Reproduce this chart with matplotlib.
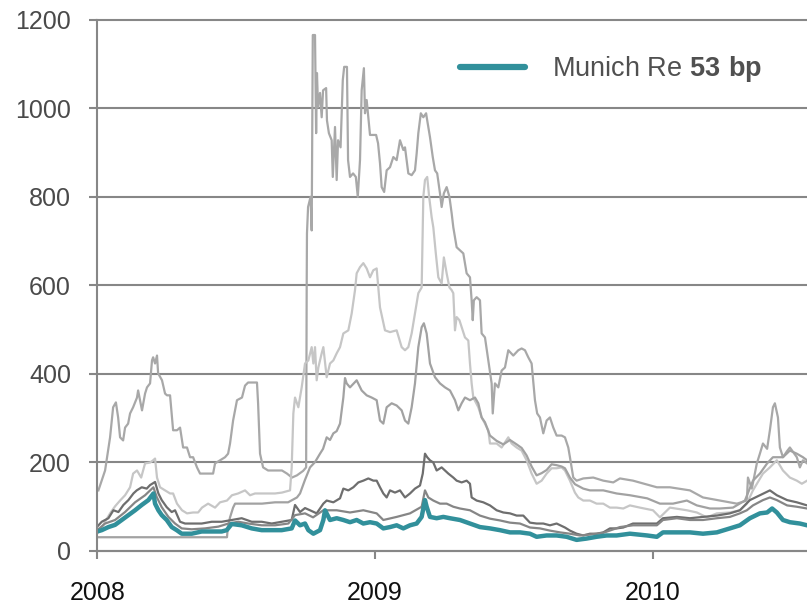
import numpy as np
import matplotlib
matplotlib.use("Agg")
import matplotlib.pyplot as plt

plt.rcParams['font.family'] = ['Liberation Sans', 'DejaVu Sans']
plt.rcParams['mathtext.fontset'] = 'custom'
plt.rcParams['mathtext.rm'] = 'Liberation Sans'
plt.rcParams['mathtext.bf'] = 'Liberation Sans:bold'

# CDS spreads in bp, x = years after start of 2008
a_t = [0.004, 0.028, 0.046, 0.057, 0.067, 0.075, 0.082, 0.093, 0.100, 0.111, 0.118, 0.129, 0.143, 0.147,
       0.161, 0.172, 0.179, 0.190, 0.197, 0.201, 0.208, 0.215, 0.219, 0.233, 0.244, 0.251, 0.262, 0.273,
       0.287, 0.298, 0.309, 0.323, 0.334, 0.345, 0.359, 0.370, 0.417, 0.424, 0.442, 0.460, 0.471, 0.478,
       0.489, 0.503, 0.521, 0.532, 0.543, 0.575, 0.579, 0.586, 0.597, 0.615, 0.633, 0.665, 0.683, 0.701,
       0.719, 0.741, 0.752, 0.754, 0.755, 0.759, 0.768, 0.772, 0.776, 0.784, 0.788, 0.791, 0.795, 0.802,
       0.808, 0.813, 0.824, 0.827, 0.834, 0.844, 0.848, 0.856, 0.862, 0.867, 0.876, 0.884, 0.889, 0.899,
       0.903, 0.910, 0.921, 0.931, 0.938, 0.946, 0.952, 0.960, 0.964, 0.970, 0.976, 0.982, 1.004, 1.011,
       1.018, 1.024, 1.033, 1.042, 1.054, 1.066, 1.078, 1.090, 1.102, 1.108, 1.120, 1.132, 1.144, 1.150,
       1.156, 1.165, 1.174, 1.184, 1.188, 1.198, 1.208, 1.216, 1.224, 1.234, 1.240, 1.248, 1.258, 1.268,
       1.276, 1.282, 1.294, 1.306, 1.318, 1.330, 1.342, 1.348, 1.352, 1.356, 1.366, 1.378, 1.384, 1.396,
       1.408, 1.420, 1.424, 1.432, 1.444, 1.456, 1.468, 1.480, 1.498, 1.516, 1.528, 1.540, 1.552, 1.564,
       1.576, 1.584, 1.594, 1.606, 1.618, 1.630, 1.642, 1.654, 1.672, 1.684, 1.696, 1.702, 1.714, 1.726,
       1.750, 1.786, 1.822, 1.858, 1.882, 1.929, 2.015, 2.062, 2.134, 2.181, 2.242, 2.303, 2.339, 2.343,
       2.357, 2.375, 2.386, 2.397, 2.412, 2.422, 2.433, 2.440, 2.451, 2.458, 2.469, 2.484, 2.494, 2.519,
       2.530, 2.541, 2.556]
a_v = [136, 181, 256, 324, 335, 301, 256, 249, 278, 287, 310, 324, 346, 362,
       317, 355, 369, 378, 430, 437, 423, 441, 401, 385, 355, 351, 351, 272,
       272, 278, 233, 233, 211, 211, 188, 174, 174, 197, 204, 211, 219, 242,
       294, 340, 346, 373, 380, 380, 333, 219, 188, 181, 181, 181, 174, 165,
       170, 180, 188, 595, 717, 777, 800, 724, 1166, 1166, 944, 1080, 1003, 1035,
       980, 1041, 1046, 973, 944, 928, 845, 958, 838, 928, 912, 1064, 1094, 1094,
       883, 845, 853, 845, 800, 883, 1041, 1091, 989, 1019, 980, 940, 940, 921,
       876, 822, 811, 860, 867, 890, 883, 928, 906, 912, 853, 849, 860, 898,
       944, 989, 980, 989, 973, 935, 890, 860, 853, 808, 777, 808, 822, 800,
       763, 731, 686, 679, 672, 627, 618, 566, 521, 566, 573, 566, 491, 482,
       430, 378, 310, 378, 369, 407, 414, 453, 441, 453, 457, 453, 437, 423,
       340, 310, 301, 265, 294, 301, 278, 260, 260, 256, 233, 211, 165, 158,
       163, 165, 158, 154, 163, 158, 143, 143, 136, 120, 113, 106, 113, 165,
       140, 197, 219, 242, 230, 272, 324, 333, 301, 233, 211, 225, 233, 211,
       188, 204, 197]

b_t = [0.001, 0.010, 0.028, 0.046, 0.064, 0.082, 0.100, 0.118, 0.129, 0.143, 0.158, 0.172, 0.190, 0.201,
       0.208, 0.215, 0.226, 0.244, 0.262, 0.273, 0.287, 0.305, 0.323, 0.345, 0.363, 0.377, 0.399, 0.424,
       0.442, 0.467, 0.485, 0.507, 0.532, 0.550, 0.568, 0.593, 0.615, 0.640, 0.665, 0.694, 0.700, 0.706,
       0.712, 0.724, 0.736, 0.748, 0.760, 0.772, 0.778, 0.784, 0.790, 0.796, 0.808, 0.814, 0.826, 0.838,
       0.850, 0.862, 0.874, 0.886, 0.904, 0.916, 0.928, 0.934, 0.946, 0.958, 0.970, 0.982, 0.994, 1.006,
       1.015, 1.018, 1.036, 1.054, 1.078, 1.096, 1.108, 1.120, 1.132, 1.144, 1.156, 1.168, 1.174, 1.180,
       1.188, 1.195, 1.204, 1.210, 1.219, 1.228, 1.240, 1.248, 1.258, 1.268, 1.276, 1.282, 1.288, 1.294,
       1.304, 1.324, 1.336, 1.342, 1.348, 1.354, 1.372, 1.384, 1.396, 1.408, 1.414, 1.438, 1.456, 1.480,
       1.492, 1.510, 1.528, 1.546, 1.564, 1.582, 1.600, 1.618, 1.636, 1.654, 1.672, 1.684, 1.702, 1.720,
       1.732, 1.750, 1.774, 1.798, 1.822, 1.846, 1.870, 1.894, 1.918, 1.954, 2.001, 2.026, 2.062, 2.123,
       2.159, 2.195, 2.231, 2.278, 2.314, 2.339, 2.361, 2.397, 2.422, 2.447, 2.469, 2.494, 2.519, 2.537,
       2.556]
b_v = [40, 45, 65, 84, 100, 113, 125, 143, 174, 181, 165, 197, 199, 204,
       208, 165, 143, 136, 129, 129, 106, 91, 84, 86, 86, 97, 106, 97,
       109, 113, 125, 129, 136, 125, 129, 129, 129, 129, 131, 136, 188, 310,
       346, 324, 369, 423, 430, 460, 423, 460, 385, 414, 446, 460, 392, 423,
       430, 446, 460, 491, 498, 536, 589, 627, 641, 650, 638, 618, 634, 638,
       573, 550, 498, 494, 498, 460, 453, 460, 491, 536, 582, 595, 800, 838,
       845, 800, 754, 731, 672, 618, 604, 663, 627, 595, 589, 582, 498, 528,
       521, 482, 475, 423, 378, 346, 324, 301, 287, 272, 242, 242, 233, 256,
       242, 233, 226, 204, 174, 151, 158, 174, 186, 186, 188, 181, 158, 131,
       120, 113, 113, 106, 106, 97, 97, 95, 102, 97, 91, 75, 97, 91,
       86, 75, 84, 86, 91, 106, 136, 174, 188, 204, 181, 165, 158, 151,
       158]

c_t = [0.000, 0.467, 0.470, 0.478, 0.489, 0.496, 0.532, 0.593, 0.640, 0.687, 0.719, 0.730, 0.748, 0.766,
       0.784, 0.802, 0.813, 0.826, 0.838, 0.850, 0.862, 0.874, 0.886, 0.892, 0.898, 0.910, 0.934, 0.952,
       0.970, 0.988, 1.006, 1.018, 1.030, 1.042, 1.060, 1.078, 1.096, 1.108, 1.120, 1.132, 1.144, 1.156,
       1.168, 1.176, 1.186, 1.198, 1.216, 1.234, 1.252, 1.270, 1.288, 1.300, 1.312, 1.324, 1.342, 1.360,
       1.372, 1.384, 1.396, 1.414, 1.438, 1.462, 1.486, 1.510, 1.528, 1.546, 1.564, 1.582, 1.600, 1.618,
       1.636, 1.654, 1.672, 1.684, 1.702, 1.720, 1.750, 1.774, 1.822, 1.870, 1.918, 1.980, 2.026, 2.073,
       2.123, 2.159, 2.206, 2.242, 2.289, 2.332, 2.361, 2.386, 2.412, 2.433, 2.469, 2.494, 2.519, 2.541,
       2.556]
c_v = [30, 30, 52, 75, 97, 106, 106, 106, 109, 109, 120, 129, 160, 188,
       200, 219, 230, 256, 250, 265, 270, 287, 346, 390, 378, 369, 385, 362,
       351, 346, 340, 294, 287, 324, 333, 328, 317, 294, 287, 324, 378, 460,
       505, 514, 491, 423, 392, 378, 369, 362, 340, 317, 333, 346, 340, 346,
       333, 301, 290, 260, 248, 240, 250, 240, 232, 215, 190, 170, 175, 182,
       195, 193, 190, 186, 165, 150, 140, 136, 136, 129, 125, 118, 106, 106,
       113, 102, 95, 95, 97, 113, 158, 174, 197, 211, 211, 226, 219, 211,
       204]

d_t = [0.000, 0.016, 0.040, 0.058, 0.076, 0.094, 0.112, 0.130, 0.142, 0.160, 0.178, 0.190, 0.208, 0.220,
       0.232, 0.250, 0.268, 0.280, 0.298, 0.316, 0.340, 0.376, 0.412, 0.448, 0.484, 0.520, 0.556, 0.592,
       0.628, 0.664, 0.700, 0.712, 0.730, 0.748, 0.766, 0.790, 0.814, 0.826, 0.850, 0.874, 0.886, 0.904,
       0.922, 0.940, 0.958, 0.976, 0.994, 1.006, 1.018, 1.030, 1.042, 1.054, 1.072, 1.090, 1.108, 1.126,
       1.144, 1.162, 1.172, 1.180, 1.188, 1.198, 1.210, 1.222, 1.240, 1.252, 1.264, 1.282, 1.294, 1.312,
       1.330, 1.342, 1.348, 1.366, 1.390, 1.414, 1.438, 1.462, 1.486, 1.510, 1.534, 1.558, 1.582, 1.606,
       1.630, 1.654, 1.684, 1.702, 1.726, 1.750, 1.774, 1.798, 1.822, 1.846, 1.870, 1.894, 1.929, 2.015,
       2.037, 2.087, 2.134, 2.181, 2.231, 2.278, 2.314, 2.350, 2.386, 2.422, 2.447, 2.484, 2.519, 2.556]
d_v = [54, 65, 73, 91, 87, 103, 114, 129, 136, 143, 140, 148, 155, 129,
       114, 98, 87, 91, 65, 61, 61, 61, 65, 65, 69, 73, 65, 65,
       61, 65, 69, 103, 87, 96, 91, 84, 106, 113, 109, 118, 140, 136,
       143, 154, 158, 163, 158, 158, 143, 129, 120, 136, 131, 136, 120, 129,
       140, 147, 174, 219, 211, 204, 199, 181, 188, 181, 174, 165, 158, 154,
       158, 151, 120, 113, 109, 102, 91, 86, 84, 79, 79, 63, 61, 61,
       57, 61, 52, 45, 38, 34, 38, 38, 41, 50, 50, 52, 61, 61,
       73, 76, 73, 76, 79, 84, 91, 114, 125, 136, 125, 114, 109, 102]

e_t = [0.000, 0.028, 0.064, 0.100, 0.136, 0.172, 0.202, 0.214, 0.232, 0.256, 0.280, 0.304, 0.340, 0.388,
       0.436, 0.472, 0.508, 0.544, 0.592, 0.640, 0.688, 0.712, 0.748, 0.777, 0.814, 0.862, 0.910, 0.958,
       1.006, 1.030, 1.078, 1.126, 1.168, 1.180, 1.192, 1.210, 1.234, 1.258, 1.282, 1.306, 1.342, 1.378,
       1.414, 1.450, 1.486, 1.522, 1.558, 1.594, 1.630, 1.666, 1.702, 1.738, 1.774, 1.822, 1.882, 1.929,
       2.015, 2.037, 2.087, 2.134, 2.181, 2.231, 2.278, 2.314, 2.339, 2.361, 2.397, 2.422, 2.447, 2.484,
       2.519, 2.556]
e_v = [46, 61, 69, 87, 109, 125, 143, 121, 98, 76, 61, 50, 48, 50,
       54, 61, 65, 61, 57, 57, 61, 80, 84, 75, 91, 91, 86, 91,
       84, 69, 76, 84, 99, 136, 120, 113, 106, 106, 99, 95, 91, 79,
       72, 68, 63, 61, 52, 50, 45, 41, 38, 34, 36, 40, 53, 57,
       57, 69, 73, 69, 69, 73, 76, 84, 91, 102, 114, 120, 114, 102,
       99, 95]

# Munich Re
m_t = [0.000, 0.016, 0.040, 0.064, 0.088, 0.112, 0.136, 0.160, 0.184, 0.202, 0.208, 0.220, 0.232, 0.250,
       0.268, 0.286, 0.304, 0.340, 0.376, 0.412, 0.448, 0.466, 0.484, 0.520, 0.556, 0.592, 0.628, 0.664,
       0.700, 0.712, 0.730, 0.748, 0.760, 0.778, 0.802, 0.814, 0.820, 0.838, 0.862, 0.886, 0.910, 0.934,
       0.958, 0.982, 1.006, 1.030, 1.054, 1.078, 1.102, 1.126, 1.150, 1.168, 1.180, 1.186, 1.198, 1.222,
       1.246, 1.270, 1.306, 1.342, 1.378, 1.414, 1.450, 1.486, 1.522, 1.558, 1.582, 1.618, 1.654, 1.690,
       1.726, 1.762, 1.798, 1.834, 1.870, 1.918, 1.980, 2.015, 2.037, 2.087, 2.134, 2.181, 2.231, 2.278,
       2.314, 2.350, 2.386, 2.412, 2.430, 2.447, 2.469, 2.494, 2.530, 2.556]
m_v = [43, 46, 53, 58, 69, 80, 91, 103, 114, 129, 106, 91, 80, 69,
       53, 46, 38, 38, 43, 43, 43, 46, 60, 57, 50, 46, 46, 46,
       50, 68, 57, 61, 46, 38, 46, 69, 91, 69, 73, 69, 64, 69,
       61, 64, 61, 50, 53, 57, 50, 57, 61, 76, 114, 99, 76, 73,
       76, 73, 69, 61, 53, 50, 46, 41, 41, 38, 31, 34, 34, 31,
       24, 27, 31, 34, 34, 38, 34, 31, 41, 41, 41, 38, 41, 50,
       57, 73, 84, 86, 95, 86, 69, 64, 61, 57]

years = [2008, 2009, 2010]
yticks = [0, 200, 400, 600, 800, 1000, 1200]

grid_col = '#878787'
fig = plt.figure(figsize=(8.07, 6.04), dpi=100)
ax = fig.add_axes([97.3 / 807, 53.5 / 604, 1 - 97.3 / 807, 530.5 / 604])

peers = [(a_t, a_v, '#a8a8a8'), (b_t, b_v, '#c6c6c6'), (c_t, c_v, '#a2a2a2'),
         (d_t, d_v, '#6e6e6e'), (e_t, e_v, '#868686')]
for t, v, col in peers:
    ax.plot(2008 + np.array(t), v, color=col, lw=1.6, solid_joinstyle='round')
ax.plot(2008 + np.array(m_t), m_v, color='#31909b', lw=3.2, solid_joinstyle='round',
        label=r'Munich Re $\mathbf{53\ bp}$')

ax.set_xlim(2008, 2008 + 709.7 / 277.7)
ax.set_ylim(0, 1200)
ax.set_xticks(years)
ax.set_xticklabels([str(y) for y in years])
ax.set_yticks(yticks)

ax.grid(axis='y', color=grid_col, lw=1.5)
for gl in ax.get_ygridlines():
    gl.set_clip_on(False)
for s in ['top', 'right']:
    ax.spines[s].set_visible(False)
for s in ['left', 'bottom']:
    ax.spines[s].set_color(grid_col)
    ax.spines[s].set_linewidth(1.5)

ax.tick_params(axis='y', length=6, width=1.5, color=grid_col, labelsize=18,
               labelcolor='#4a4a4a', pad=13)
ax.tick_params(axis='x', length=6, width=1.5, color=grid_col, labelsize=18,
               labelcolor='#111111', pad=16)

leg = ax.legend(loc='center left', bbox_to_anchor=(0.511, 0.9076), frameon=False,
                fontsize=19.5, handlelength=2.4, handletextpad=1.0, borderpad=0,
                borderaxespad=0)
for txt in leg.get_texts():
    txt.set_color('#505050')
for ln in leg.get_lines():
    ln.set_linewidth(4.5)
    ln.set_solid_capstyle('round')

fig.savefig('out.png', dpi=100)
